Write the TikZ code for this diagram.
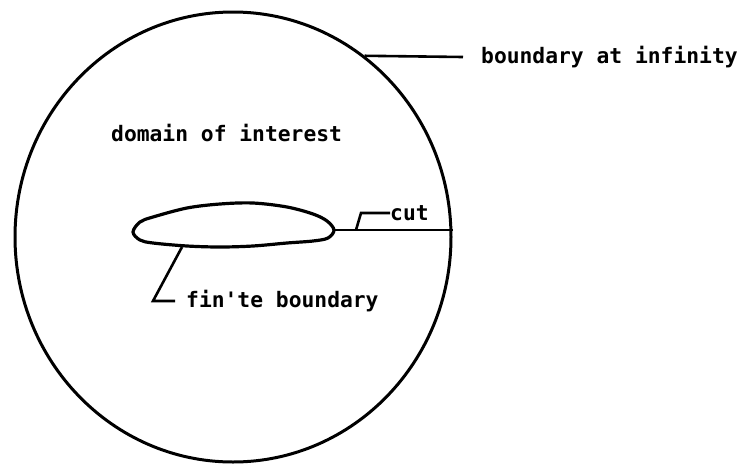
\documentclass[tikz,border=0pt]{standalone}
\usepackage{fontspec}
\setmonofont{DejaVu Sans Mono}
\usepackage{tikz}
\usetikzlibrary{positioning, shapes.geometric}

\begin{document}
\begin{tikzpicture}[
    x=1pt, y=-1pt,
    every node/.style={font=\ttfamily\bfseries\fontsize{21.3}{24}\selectfont},
    lbl/.style={inner sep=0pt, anchor=west},
    bnd/.style={draw, ellipse, line width=3pt, minimum width=436pt,
      minimum height=450pt, inner sep=0pt},
    foil/.style={line width=3.2pt},
    lead/.style={line width=2.6pt}
  ]
  \useasboundingbox (0,0) rectangle (747,464);

  \node[bnd] (outer) at (233,237) {};
  \draw[foil] plot[smooth cycle, tension=0.55] coordinates {
    (133,232) (140,222) (153,217) (187,208) (220,204) (253,203)
    (287,207) (313,214) (327,221) (334,230) (328,238) (313,241)
    (287,243) (253,246) (220,247) (187,246) (153,243) (140,240)};
  \coordinate (tail) at (334,230);
  \coordinate (cutfoot) at (356,230);
  \coordinate (foilbot) at (182,247);

  \node[lbl] (infty)  at (481,57)  {boundary at infinity};
  \node[lbl] (domain) at (111,133) {domain of interest};
  \node[lbl] (cut)    at (390,213) {cut};
  \node[lbl] (finite) at (186,301) {fin'te boundary};

  \draw[lead] (outer.54) -- ([xshift=-18pt]infty.west);
  \draw[lead] (tail) -- (tail -| outer.east);
  \draw[lead] (cutfoot) -- ++(5,-17) -- (cut.west);
  \draw[lead] (foilbot) -- (153,301) -- ([xshift=-11pt]finite.west);
\end{tikzpicture}
\end{document}
